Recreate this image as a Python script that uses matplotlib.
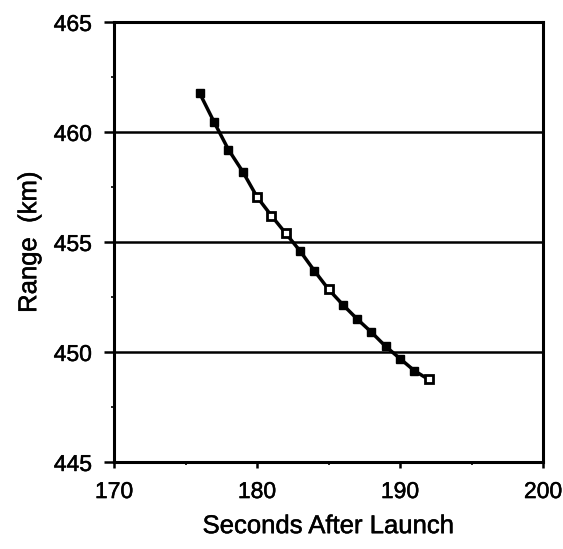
import matplotlib
matplotlib.use("Agg")
import matplotlib.pyplot as plt
import matplotlib.patheffects as pe
from matplotlib.ticker import MultipleLocator

seconds = [176, 177, 178, 179, 180, 181, 182, 183, 184, 185, 186, 187, 188, 189, 190, 191, 192]
range_km = [461.75, 460.45, 459.2, 458.2, 457.05, 456.2, 455.4, 454.6, 453.7, 452.85, 452.15, 451.5, 450.9, 450.25, 449.7, 449.15, 448.75]
open_marker = [False, False, False, False, True, True, True, False, False, True, False, False, False, False, False, False, True]
x_ticks = [170, 180, 190, 200]
y_ticks = [445, 450, 455, 460, 465]
grid_levels = [450, 455, 460]

plt.rcParams['font.family'] = ['Liberation Sans', 'DejaVu Sans']

fig = plt.figure(figsize=(5.63, 5.49), dpi=100)
ax = fig.add_axes([0.2025, 0.1585, 0.762, 0.8015])

for g in grid_levels:
    ax.axhline(g, color='black', lw=1.8, zorder=1)

ax.plot(seconds, range_km, color='black', lw=2.5, zorder=2)
xf = [s for s, o in zip(seconds, open_marker) if not o]
yf = [r for r, o in zip(range_km, open_marker) if not o]
xo = [s for s, o in zip(seconds, open_marker) if o]
yo = [r for r, o in zip(range_km, open_marker) if o]
ax.plot(xf, yf, 's', color='black', ms=6.3, zorder=3)
ax.plot(xo, yo, 's', mfc='white', mec='black', mew=2.0, ms=6.3, zorder=3)

ax.set_xlim(170, 200)
ax.set_ylim(445, 465)
ax.set_xticks(x_ticks)
ax.set_yticks(y_ticks)
ax.xaxis.set_minor_locator(MultipleLocator(5))
ax.yaxis.set_minor_locator(MultipleLocator(2.5))
ax.tick_params(axis='y', which='major', direction='out', length=7, width=1.8, pad=9, labelsize=16.5)
ax.tick_params(axis='x', which='major', direction='out', length=4, width=1.8, pad=9, labelsize=16.5)
ax.tick_params(which='minor', direction='out', length=2, width=1.2)

for sp in ax.spines.values():
    sp.set_linewidth(2.2)

thick = [pe.withStroke(linewidth=0.35, foreground='black')]
for lbl in ax.get_xticklabels() + ax.get_yticklabels():
    lbl.set_path_effects(thick)

xl = ax.set_xlabel('Seconds After Launch', fontsize=18.5, labelpad=8)
yl = ax.set_ylabel('Range  (km)', fontsize=18.5, labelpad=9)
xl.set_path_effects(thick)
yl.set_path_effects(thick)

fig.savefig('out.png', dpi=100)
